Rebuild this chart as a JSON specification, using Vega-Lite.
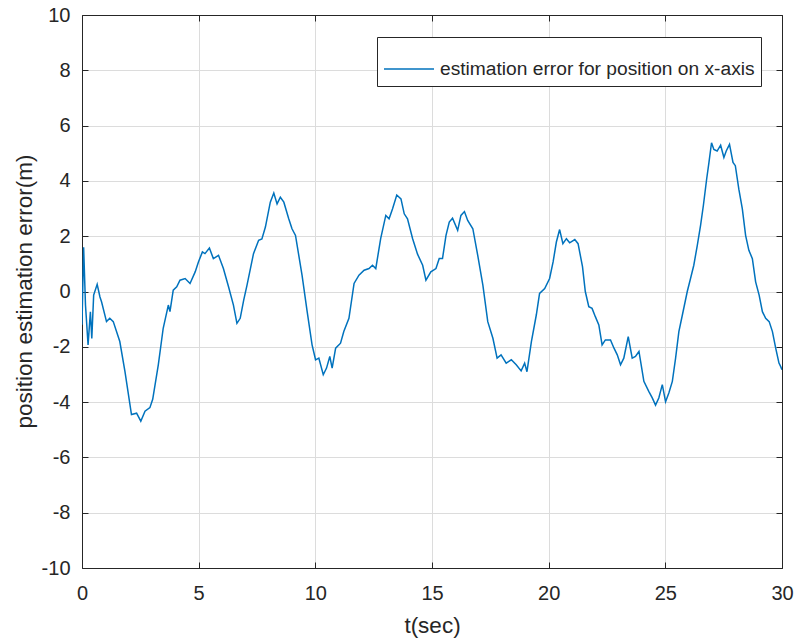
{
  "$schema": "https://vega.github.io/schema/vega-lite/v6.json",
  "width": 700,
  "height": 553,
  "autosize": {"type": "none"},
  "padding": {"left": 82, "top": 15, "right": 16, "bottom": 73},
  "background": "white",
  "config": {
    "view": {"stroke": null},
    "font": "Liberation Sans",
    "axis": {
      "domainColor": "#262626",
      "domainWidth": 1,
      "tickColor": "#262626",
      "tickSize": -6,
      "labelColor": "#262626",
      "labelFont": "Liberation Sans",
      "labelFontSize": 20,
      "labelFlush": false,
      "labelExpr": "'' + datum.value",
      "titleFont": "Liberation Sans",
      "titleFontSize": 22.5,
      "titleFontWeight": "normal",
      "titleColor": "#262626",
      "gridColor": "#dcdcdc",
      "gridWidth": 1
    }
  },
  "data": {
    "values": [
      {"t": 0, "v": -1.2}, {"t": 0.07, "v": 1.6}, {"t": 0.15, "v": -0.5}, {"t": 0.26, "v": -1.93},
      {"t": 0.36, "v": -0.73}, {"t": 0.42, "v": -1.7}, {"t": 0.5, "v": -0.13}, {"t": 0.65, "v": 0.26},
      {"t": 0.77, "v": -0.2}, {"t": 0.84, "v": -0.38}, {"t": 1.05, "v": -1.09}, {"t": 1.19, "v": -0.97},
      {"t": 1.34, "v": -1.09}, {"t": 1.62, "v": -1.81}, {"t": 1.84, "v": -2.89}, {"t": 2.12, "v": -4.45},
      {"t": 2.34, "v": -4.4}, {"t": 2.52, "v": -4.69}, {"t": 2.7, "v": -4.33}, {"t": 2.91, "v": -4.2},
      {"t": 3.03, "v": -3.9}, {"t": 3.27, "v": -2.65}, {"t": 3.48, "v": -1.33}, {"t": 3.7, "v": -0.49},
      {"t": 3.77, "v": -0.73}, {"t": 3.91, "v": 0.05}, {"t": 4.06, "v": 0.17}, {"t": 4.2, "v": 0.41},
      {"t": 4.42, "v": 0.47}, {"t": 4.63, "v": 0.29}, {"t": 4.85, "v": 0.71}, {"t": 4.99, "v": 1.07},
      {"t": 5.16, "v": 1.43}, {"t": 5.27, "v": 1.37}, {"t": 5.46, "v": 1.57}, {"t": 5.63, "v": 1.19},
      {"t": 5.85, "v": 1.31}, {"t": 6.06, "v": 0.83}, {"t": 6.28, "v": 0.17}, {"t": 6.49, "v": -0.49},
      {"t": 6.64, "v": -1.15}, {"t": 6.78, "v": -0.97}, {"t": 6.93, "v": -0.31}, {"t": 7.07, "v": 0.22},
      {"t": 7.35, "v": 1.37}, {"t": 7.57, "v": 1.85}, {"t": 7.71, "v": 1.9}, {"t": 7.86, "v": 2.33},
      {"t": 8.07, "v": 3.23}, {"t": 8.22, "v": 3.56}, {"t": 8.36, "v": 3.17}, {"t": 8.5, "v": 3.41},
      {"t": 8.65, "v": 3.23}, {"t": 8.86, "v": 2.63}, {"t": 9.0, "v": 2.27}, {"t": 9.15, "v": 2.03},
      {"t": 9.43, "v": 0.59}, {"t": 9.65, "v": -0.73}, {"t": 9.86, "v": -1.93}, {"t": 10.01, "v": -2.47},
      {"t": 10.15, "v": -2.41}, {"t": 10.34, "v": -3.01}, {"t": 10.48, "v": -2.77}, {"t": 10.62, "v": -2.35},
      {"t": 10.72, "v": -2.77}, {"t": 10.87, "v": -2.05}, {"t": 11.08, "v": -1.87}, {"t": 11.22, "v": -1.45},
      {"t": 11.44, "v": -0.97}, {"t": 11.66, "v": 0.29}, {"t": 11.87, "v": 0.59}, {"t": 12.09, "v": 0.77},
      {"t": 12.3, "v": 0.83}, {"t": 12.45, "v": 0.95}, {"t": 12.59, "v": 0.83}, {"t": 12.66, "v": 1.19},
      {"t": 12.8, "v": 1.91}, {"t": 13.02, "v": 2.75}, {"t": 13.16, "v": 2.63}, {"t": 13.31, "v": 2.99},
      {"t": 13.49, "v": 3.49}, {"t": 13.67, "v": 3.35}, {"t": 13.81, "v": 2.81}, {"t": 13.95, "v": 2.63},
      {"t": 14.17, "v": 1.91}, {"t": 14.38, "v": 1.35}, {"t": 14.6, "v": 0.95}, {"t": 14.74, "v": 0.41},
      {"t": 14.95, "v": 0.71}, {"t": 15.17, "v": 0.83}, {"t": 15.31, "v": 1.19}, {"t": 15.45, "v": 1.19},
      {"t": 15.6, "v": 2.03}, {"t": 15.74, "v": 2.51}, {"t": 15.88, "v": 2.65}, {"t": 16.1, "v": 2.21},
      {"t": 16.24, "v": 2.75}, {"t": 16.39, "v": 2.89}, {"t": 16.53, "v": 2.57}, {"t": 16.75, "v": 2.27},
      {"t": 16.96, "v": 1.31}, {"t": 17.18, "v": 0.23}, {"t": 17.39, "v": -1.09}, {"t": 17.61, "v": -1.69},
      {"t": 17.79, "v": -2.41}, {"t": 17.96, "v": -2.29}, {"t": 18.18, "v": -2.59}, {"t": 18.4, "v": -2.47},
      {"t": 18.61, "v": -2.65}, {"t": 18.82, "v": -2.87}, {"t": 18.97, "v": -2.59}, {"t": 19.07, "v": -2.9},
      {"t": 19.26, "v": -1.81}, {"t": 19.47, "v": -0.85}, {"t": 19.61, "v": -0.07}, {"t": 19.83, "v": 0.11},
      {"t": 20.04, "v": 0.47}, {"t": 20.19, "v": 1.07}, {"t": 20.33, "v": 1.79}, {"t": 20.47, "v": 2.24},
      {"t": 20.61, "v": 1.73}, {"t": 20.76, "v": 1.91}, {"t": 20.9, "v": 1.76}, {"t": 21.12, "v": 1.88},
      {"t": 21.26, "v": 1.73}, {"t": 21.45, "v": 0.9}, {"t": 21.57, "v": 0.0}, {"t": 21.72, "v": -0.55},
      {"t": 21.86, "v": -0.61}, {"t": 22.0, "v": -0.91}, {"t": 22.15, "v": -1.21}, {"t": 22.29, "v": -1.93},
      {"t": 22.43, "v": -1.75}, {"t": 22.65, "v": -1.75}, {"t": 22.8, "v": -2.05}, {"t": 22.94, "v": -2.29},
      {"t": 23.08, "v": -2.65}, {"t": 23.22, "v": -2.41}, {"t": 23.41, "v": -1.63}, {"t": 23.58, "v": -2.41},
      {"t": 23.72, "v": -2.35}, {"t": 23.87, "v": -2.17}, {"t": 23.94, "v": -2.53}, {"t": 24.08, "v": -3.25},
      {"t": 24.29, "v": -3.61}, {"t": 24.44, "v": -3.85}, {"t": 24.58, "v": -4.11}, {"t": 24.72, "v": -3.85},
      {"t": 24.87, "v": -3.37}, {"t": 25.01, "v": -3.99}, {"t": 25.15, "v": -3.67}, {"t": 25.3, "v": -3.25},
      {"t": 25.44, "v": -2.41}, {"t": 25.58, "v": -1.45}, {"t": 25.73, "v": -0.85}, {"t": 25.94, "v": 0.0},
      {"t": 26.08, "v": 0.47}, {"t": 26.22, "v": 0.95}, {"t": 26.37, "v": 1.67}, {"t": 26.51, "v": 2.39},
      {"t": 26.63, "v": 3.11}, {"t": 26.77, "v": 4.06}, {"t": 26.87, "v": 4.67}, {"t": 26.98, "v": 5.38},
      {"t": 27.08, "v": 5.14}, {"t": 27.22, "v": 5.08}, {"t": 27.37, "v": 5.29}, {"t": 27.51, "v": 4.85},
      {"t": 27.61, "v": 5.08}, {"t": 27.75, "v": 5.32}, {"t": 27.9, "v": 4.67}, {"t": 28.0, "v": 4.55},
      {"t": 28.15, "v": 3.7}, {"t": 28.3, "v": 2.99}, {"t": 28.44, "v": 2.03}, {"t": 28.58, "v": 1.49},
      {"t": 28.73, "v": 1.19}, {"t": 28.87, "v": 0.35}, {"t": 29.02, "v": -0.13}, {"t": 29.16, "v": -0.73},
      {"t": 29.3, "v": -0.97}, {"t": 29.45, "v": -1.09}, {"t": 29.59, "v": -1.45}, {"t": 29.73, "v": -2.05},
      {"t": 29.87, "v": -2.59}, {"t": 29.94, "v": -2.71}, {"t": 30.0, "v": -2.83}
    ]
  },
  "layer": [
    {
      "mark": {"type": "line", "strokeWidth": 1.5, "clip": true},
      "encoding": {
        "x": {
          "field": "t", "type": "quantitative",
          "scale": {"domain": [0, 30], "nice": false, "zero": false},
          "axis": {
            "orient": "bottom", "values": [0, 5, 10, 15, 20, 25, 30],
            "title": "t(sec)", "labelPadding": 21, "grid": true,
            "titleX": 350, "titleY": 57, "titleBaseline": "middle", "titleAlign": "center"
          }
        },
        "y": {
          "field": "v", "type": "quantitative",
          "scale": {"domain": [-10, 10], "nice": false, "zero": false},
          "axis": {
            "orient": "left", "values": [-10, -8, -6, -4, -2, 0, 2, 4, 6, 8, 10],
            "title": "position estimation error(m)", "labelPadding": 18, "grid": true,
            "titleX": -58, "titleY": 276, "titleBaseline": "middle", "titleAlign": "center", "titleAngle": -90
          }
        },
        "color": {
          "datum": "estimation error for position on x-axis",
          "type": "nominal",
          "scale": {"range": ["#0072BD"]},
          "legend": {
            "title": null,
            "orient": "none",
            "legendX": 295,
            "legendY": 22,
            "direction": "vertical",
            "symbolType": "stroke",
            "symbolSize": 2500,
            "symbolStrokeWidth": 1.3,
            "labelFont": "Liberation Sans",
            "labelFontSize": 19.2,
            "labelColor": "#262626",
            "labelOffset": 5,
            "labelLimit": 500,
            "padding": 6,
            "strokeColor": "#262626",
            "fillColor": "white"
          }
        }
      }
    },
    {
      "mark": {"type": "line", "strokeOpacity": 0},
      "encoding": {
        "x": {
          "field": "t", "type": "quantitative",
          "scale": {"domain": [0, 30], "nice": false, "zero": false},
          "axis": {"orient": "top", "values": [0, 5, 10, 15, 20, 25, 30], "labels": false, "title": null, "grid": false}
        },
        "y": {
          "field": "v", "type": "quantitative",
          "scale": {"domain": [-10, 10], "nice": false, "zero": false},
          "axis": {"orient": "right", "values": [-10, -8, -6, -4, -2, 0, 2, 4, 6, 8, 10], "labels": false, "title": null, "grid": false}
        }
      }
    }
  ],
  "resolve": {"axis": {"x": "independent", "y": "independent"}}
}
